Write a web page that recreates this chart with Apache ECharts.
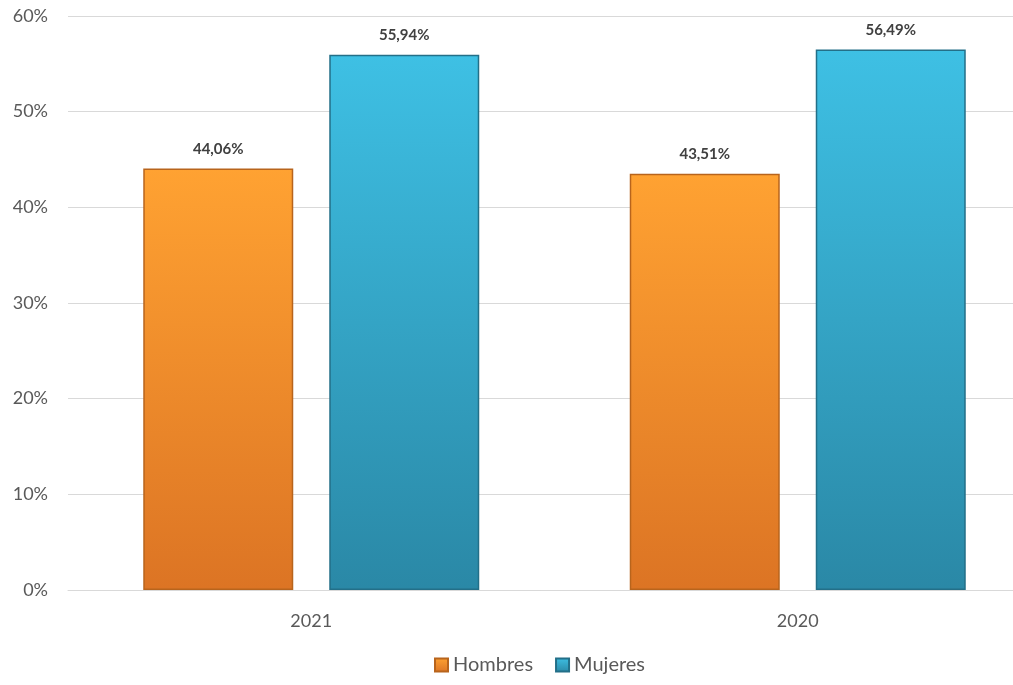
<!DOCTYPE html>
<html><head><meta charset="utf-8">
<script src="https://cdn.jsdelivr.net/npm/echarts@6/dist/echarts.min.js"></script>
<style>html,body{margin:0;padding:0;background:#fff}#c{width:1013px;height:685px}</style>
</head><body><div id="c"></div>
<script>
const categories = ['2021', '2020'];
const hombres = [44.06, 43.51];
const mujeres = [55.94, 56.49];
const seriesNames = ['Hombres', 'Mujeres'];
const yTicks = [0, 10, 20, 30, 40, 50, 60];

const font = 'Lato, "Open Sans", sans-serif';
function grad(top, bottom) {
  return new echarts.graphic.LinearGradient(0, 0, 0, 1, [
    {offset: 0, color: top}, {offset: 1, color: bottom}
  ]);
}
const labelCfg = {
  show: true, position: 'top', distance: 12,
  formatter: p => p.value.toFixed(2).replace('.', ',') + '%',
  fontFamily: font, fontWeight: 'bold', fontSize: 15, color: '#404040'
};
const chart = echarts.init(document.getElementById('c'));
chart.setOption({
  animation: false,
  grid: {left: 68, width: 973, top: 16, bottom: 95, outerBoundsMode: 'none', containLabel: false},
  legend: {
    bottom: 5, left: 429, itemWidth: 13, itemHeight: 13, itemGap: 22,
    icon: 'rect',
    textStyle: {fontFamily: font, fontSize: 20, color: '#595959'},
    data: seriesNames
  },
  xAxis: {
    type: 'category', data: categories,
    axisLine: {lineStyle: {color: '#d9d9d9', width: 1}},
    axisTick: {show: false},
    axisLabel: {fontFamily: font, fontSize: 18, color: '#595959', margin: 22}
  },
  yAxis: {
    type: 'value', min: yTicks[0], max: yTicks[yTicks.length - 1], interval: 10,
    axisLabel: {formatter: v => v + '%', fontFamily: font, fontSize: 18, color: '#595959', margin: 20},
    splitLine: {lineStyle: {color: '#d9d9d9', width: 1}},
    axisLine: {show: false}, axisTick: {show: false}
  },
  series: [
    {
      name: seriesNames[0], type: 'bar', data: hombres, barWidth: 150, barGap: '24%',
      itemStyle: {color: grad('#ffa232', '#dc7424'), borderColor: '#b8641c', borderWidth: 1.5},
      label: labelCfg
    },
    {
      name: seriesNames[1], type: 'bar', data: mujeres, barWidth: 150,
      itemStyle: {color: grad('#3ec0e4', '#2a88a6'), borderColor: '#236f88', borderWidth: 1.5},
      label: labelCfg
    }
  ]
});
</script></body></html>
